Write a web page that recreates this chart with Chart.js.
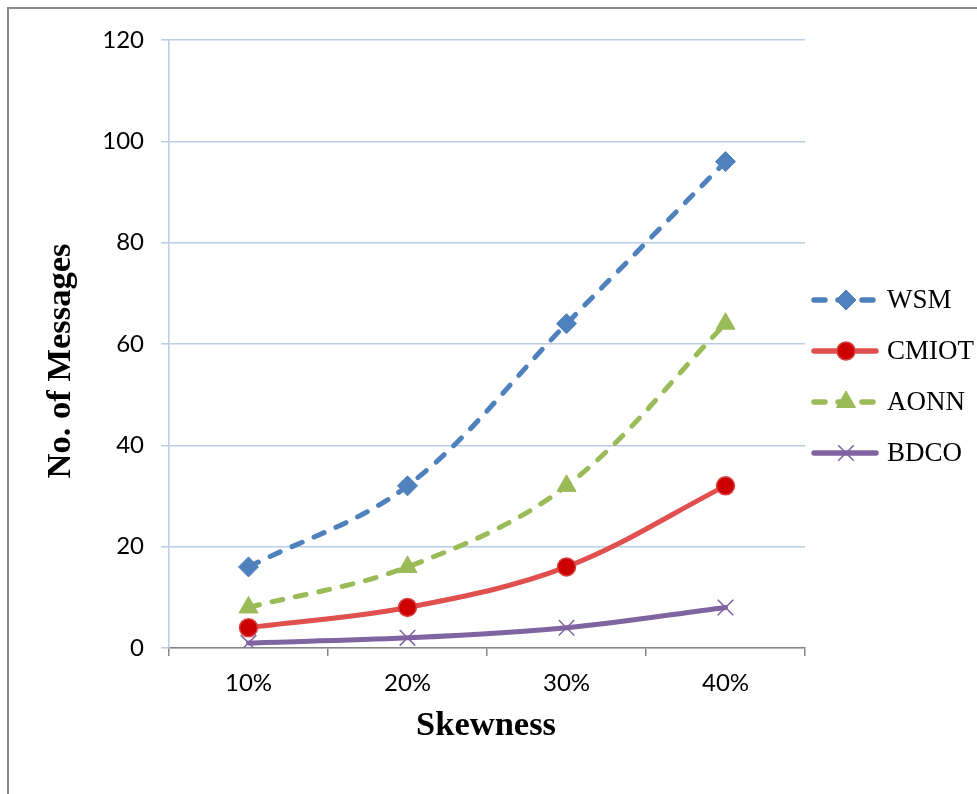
<!DOCTYPE html>
<html>
<head>
<meta charset="utf-8">
<script src="https://cdn.jsdelivr.net/npm/chart.js@4.4.1/dist/chart.umd.min.js"></script>
<style>
  html, body { margin: 0; padding: 0; background: #fff; }
  #c { display: block; }
</style>
</head>
<body>
<canvas id="c" width="977" height="794"></canvas>
<script>
// Categories and series values
const categories = ['10%', '20%', '30%', '40%'];
const wsm   = [16, 32, 64, 96];
const cmiot = [4, 8, 16, 32];
const aonn  = [8, 16, 32, 64];
const bdco  = [1, 2, 4, 8];
const seriesNames = ['WSM', 'CMIOT', 'AONN', 'BDCO'];
const yMin = 0, yMax = 120, yStep = 20;
const xTitle = 'Skewness';
const yTitle = 'No. of Messages';

const tickFont = { family: 'Lato, "Open Sans", sans-serif', size: 24 };

// Pick a font size so the text spans the given width
function fitFont(ctx, text, weight, family, target) {
  ctx.font = weight + ' 100px ' + family;
  const w = ctx.measureText(text).width;
  return weight + ' ' + (100 * target / w).toFixed(2) + 'px ' + family;
}

const framePlugin = {
  id: 'frame',
  beforeDraw(chart) {
    const ctx = chart.ctx;
    ctx.save();
    ctx.fillStyle = '#fff';
    ctx.fillRect(0, 0, chart.width, chart.height);
    ctx.strokeStyle = '#8a8a8a';
    ctx.lineWidth = 2;
    ctx.beginPath();
    ctx.moveTo(8, chart.height);
    ctx.lineTo(8, 8);
    ctx.lineTo(chart.width, 8);
    ctx.stroke();
    ctx.restore();
  }
};

const titlesPlugin = {
  id: 'axisTitles',
  afterDraw(chart) {
    const ctx = chart.ctx;
    const serif = '"Liberation Serif", "DejaVu Serif", serif';
    ctx.save();
    ctx.fillStyle = '#000';
    ctx.textAlign = 'center';
    ctx.textBaseline = 'middle';
    ctx.font = fitFont(ctx, xTitle, 'bold', serif, 140);
    ctx.fillText(xTitle, 486, 726);
    ctx.translate(61, 361);
    ctx.rotate(-Math.PI / 2);
    ctx.font = fitFont(ctx, yTitle, 'bold', serif, 235);
    ctx.fillText(yTitle, 0, 0);
    ctx.restore();
  }
};

const legendPlugin = {
  id: 'sideLegend',
  afterDraw(chart) {
    const ctx = chart.ctx;
    const x0 = 814, x1 = 876, xm = 846, xt = 887;
    const rowY = [300, 351, 402, 453];
    ctx.save();
    chart.data.datasets.forEach((ds, i) => {
      const y = rowY[i];
      ctx.strokeStyle = ds.borderColor;
      ctx.lineWidth = ds.borderWidth + 0.5;
      ctx.lineCap = 'round';
      ctx.setLineDash(ds.borderDash || []);
      ctx.beginPath();
      ctx.moveTo(x0, y);
      ctx.lineTo(x1, y);
      ctx.stroke();
      ctx.setLineDash([]);
      ctx.lineCap = 'butt';
      ctx.fillStyle = ds.pointBackgroundColor;
      ctx.strokeStyle = ds.pointBorderColor;
      ctx.lineWidth = ds.pointBorderWidth;
      Chart.helpers.drawPoint(ctx, {
        pointStyle: ds.pointStyle,
        radius: ds.pointRadius,
        rotation: 0,
        borderWidth: ds.pointBorderWidth
      }, xm, y);
      ctx.fillStyle = '#000';
      ctx.font = '27px "Liberation Serif", "Times New Roman", serif';
      ctx.textAlign = 'left';
      ctx.textBaseline = 'middle';
      ctx.fillText(ds.label, xt, y + 1);
    });
    ctx.restore();
  }
};

const ctx = document.getElementById('c').getContext('2d');
new Chart(ctx, {
  type: 'line',
  data: {
    labels: categories,
    datasets: [
      {
        label: seriesNames[0], data: wsm,
        borderColor: '#4F81BD', borderWidth: 5, borderDash: [11, 13], borderCapStyle: 'round',
        pointStyle: 'rectRot', pointRadius: 10,
        pointBackgroundColor: '#4F81BD', pointBorderColor: '#4F81BD', pointBorderWidth: 1
      },
      {
        label: seriesNames[1], data: cmiot,
        borderColor: '#E0504F', borderWidth: 5, borderCapStyle: 'round',
        pointStyle: 'circle', pointRadius: 9,
        pointBackgroundColor: '#CC0000', pointBorderColor: '#D9403F', pointBorderWidth: 1.5
      },
      {
        label: seriesNames[2], data: aonn,
        borderColor: '#9BBB59', borderWidth: 5, borderDash: [11, 13], borderCapStyle: 'round',
        pointStyle: 'triangle', pointRadius: 11,
        pointBackgroundColor: '#9BBB59', pointBorderColor: '#9BBB59', pointBorderWidth: 1
      },
      {
        label: seriesNames[3], data: bdco,
        borderColor: '#8064A2', borderWidth: 5, borderCapStyle: 'round',
        pointStyle: 'crossRot', pointRadius: 11,
        pointBackgroundColor: '#8064A2', pointBorderColor: '#8064A2', pointBorderWidth: 1.5
      }
    ]
  },
  options: {
    responsive: false,
    animation: false,
    devicePixelRatio: 1,
    layout: { padding: { top: 40, right: 172, left: 0, bottom: 0 } },
    elements: { line: { tension: 0.35, fill: false } },
    plugins: { legend: { display: false }, tooltip: { enabled: false } },
    scales: {
      x: {
        type: 'category',
        offset: true,
        afterFit(s) { s.height = 146; },
        grid: { offset: true, drawOnChartArea: false, color: '#868686', tickLength: 8, lineWidth: 1.5 },
        border: { color: '#868686', width: 1.5 },
        ticks: { font: tickFont, color: '#000', padding: 13 }
      },
      y: {
        min: yMin, max: yMax,
        afterFit(s) { s.width = 169; },
        grid: { color: '#B9CDE5', tickLength: 8, lineWidth: 1.5 },
        border: { color: '#B9CDE5', width: 1.5 },
        ticks: { stepSize: yStep, font: tickFont, color: '#000', padding: 17 }
      }
    }
  },
  plugins: [framePlugin, titlesPlugin, legendPlugin]
});
</script>
</body>
</html>
